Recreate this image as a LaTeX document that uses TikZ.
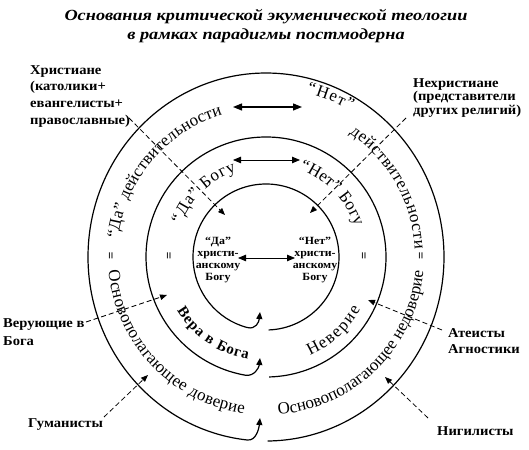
\documentclass[tikz,border=0pt]{standalone}
\usepackage{fontspec}
\setmainfont{Liberation Serif}
\newfontfamily\labfam{Liberation Serif}[FakeStretch=1.08]
\newfontfamily\titfam{Liberation Serif}[FakeStretch=1.18]
\usetikzlibrary{arrows.meta,decorations.text}
\newcommand\arcfnt{\fontsize{17}{17}\selectfont}
\begin{document}
\begin{tikzpicture}[x=1pt,y=1pt,
  circ/.style={line width=1.2pt},
  dbl/.style={line width=1.2pt,{Triangle[length=9pt,width=7pt]}-{Triangle[length=9pt,width=7pt]}},
  dblthin/.style={line width=0.8pt,{Triangle[length=8pt,width=6.5pt]}-{Triangle[length=8pt,width=6.5pt]}},
  dsh/.style={line width=0.8pt,dash pattern=on 5pt off 3pt,-{Triangle[length=7pt,width=5.5pt]}},
  hk/.style={line width=1.2pt,-{Triangle[length=7pt,width=6pt]}},
  lab/.style={font=\labfam\bfseries\fontsize{13.5}{16.7}\selectfont,align=left,inner sep=0pt},
  inn/.style={font=\labfam\bfseries\fontsize{11}{12}\selectfont,align=center,inner sep=0pt},
  eq/.style={font=\bfseries\fontsize{13}{13}\selectfont,rotate=90,inner sep=0pt},
  arctxt/.style={decorate,decoration={text along path,text align={fit to path},text={#1}}}
]
\useasboundingbox (0,0) rectangle (529,449);
\fill[white] (0,0) rectangle (529,449);
\coordinate (C) at (266,192);

% title
\node[font=\titfam\bfseries\itshape\fontsize{15.5}{19}\selectfont,align=center,inner sep=0pt,anchor=north] (title) at (266,440)
  {Основания критической экуменической теологии\\в рамках парадигмы постмодерна};

% circles with hooks
\coordinate (t1) at (260,137);
\coordinate (t2) at (260,91);
\coordinate (t3) at (260,31);
\draw[circ,hk] ([shift={(-88:73pt)}]C) arc[start angle=-88,end angle=255,radius=73pt]
   .. controls +(345:9pt) and +(-1pt,-10pt) .. (t1);
\draw[circ,hk] ([shift={(-88.5:120pt)}]C) arc[start angle=-88.5,end angle=260,radius=120pt]
   .. controls +(350:9pt) and +(-1pt,-10pt) .. (t2);
\draw[circ,hk] ([shift={(1.55pt,-184pt)}]C) arc[start angle=-89.5,end angle=264,x radius=178pt,y radius=184pt]
   .. controls +(354:9pt) and +(-1pt,-10pt) .. (t3);

% arc texts, outer band
\path[arctxt={|\arcfnt|“Да” действительности}] ([shift={(173:149pt)}]C) arc[start angle=173,end angle=107,radius=149pt];
\path[arctxt={|\arcfnt|“Нет”}] ([shift={(76:169pt)}]C) arc[start angle=76,end angle=60,radius=169pt];
\path[arctxt={|\arcfnt|действительности}] ([shift={(56:149pt)}]C) arc[start angle=56,end angle=3,radius=149pt];
\path[arctxt={|\arcfnt|Основополагающее доверие}] ([shift={(185:158pt)}]C) arc[start angle=185,end angle=262,radius=158pt];
\path[arctxt={|\arcfnt|Основополагающее недоверие}] ([shift={(274.5:158pt)}]C) arc[start angle=274.5,end angle=355,radius=158pt];
% arc texts, middle band
\path[arctxt={|\arcfnt|“Да” Богу}] ([shift={(159:91pt)}]C) arc[start angle=159,end angle=109,radius=91pt];
\path[arctxt={|\arcfnt|“Нет” Богу}] ([shift={(69:94pt)}]C) arc[start angle=69,end angle=19,radius=94pt];
\path[arctxt={|\fontsize{15}{15}\selectfont\bfseries|Вера в Бога}] ([shift={(211:104pt)}]C) arc[start angle=211,end angle=260,radius=104pt];
\path[arctxt={|\arcfnt|Неверие}] ([shift={(294:108pt)}]C) arc[start angle=294,end angle=331,radius=108pt];

% double arrows
\coordinate (a1l) at (233,342); \coordinate (a1r) at (302,342);
\coordinate (a2l) at (233,289); \coordinate (a2r) at (300,289);
\coordinate (a3l) at (238,191); \coordinate (a3r) at (295,191);
\draw[dbl] (a1l) -- (a1r);
\draw[dblthin] (a2l) -- (a2r);
\draw[dblthin] (a3l) -- (a3r);

% inner texts
\node[inn] (dax) at (218,189) {“Да”\\христи-\\анскому\\Богу};
\node[inn] (netx) at (315,189) {“Нет”\\христи-\\анскому\\Богу};

% equal signs
\node[eq] (e1) at (112,193) {=};
\node[eq] (e2) at (170,193) {=};
\node[eq] (e3) at (365,193) {=};
\node[eq] (e4) at (422,193) {=};

% labels
\node[lab,anchor=north west] (chr) at (30,384) {Христиане\\(католики+\\евангелисты+\\православные)};
\node[lab,anchor=north west,font=\labfam\bfseries\fontsize{13.5}{13.5}\selectfont] (nch) at (413,371) {Нехристиане\\(представители\\других религий)};
\node[lab,anchor=north west,font=\labfam\bfseries\fontsize{13.5}{18}\selectfont] (ver) at (3,131) {Верующие в\\Бога};
\node[lab,anchor=base west] (gum) at (28,21) {Гуманисты};
\node[lab,anchor=north west,font=\labfam\bfseries\fontsize{13.5}{16.5}\selectfont] (ath) at (448,121) {Атеисты\\Агностики};
\node[lab,anchor=base west] (nig) at (437,14) {Нигилисты};

% dashed connectors
\coordinate (hs) at (129,331); \coordinate (ht) at (225,234);
\coordinate (ns) at (406,331); \coordinate (nt) at (310,236);
\coordinate (vs) at (86,127);  \coordinate (vt) at (167,154);
\coordinate (gs) at (104,32);  \coordinate (gt) at (148,74);
\coordinate (as) at (442,119); \coordinate (ate) at (368,149);
\coordinate (nis) at (428,31); \coordinate (nit) at (385,72);
\draw[dsh] (hs) -- (ht);
\draw[dsh] (ns) -- (nt);
\draw[dsh] (vs) -- (vt);
\draw[dsh] (gs) -- (gt);
\draw[dsh] (as) -- (ate);
\draw[dsh] (nis) -- (nit);
\end{tikzpicture}
\end{document}
